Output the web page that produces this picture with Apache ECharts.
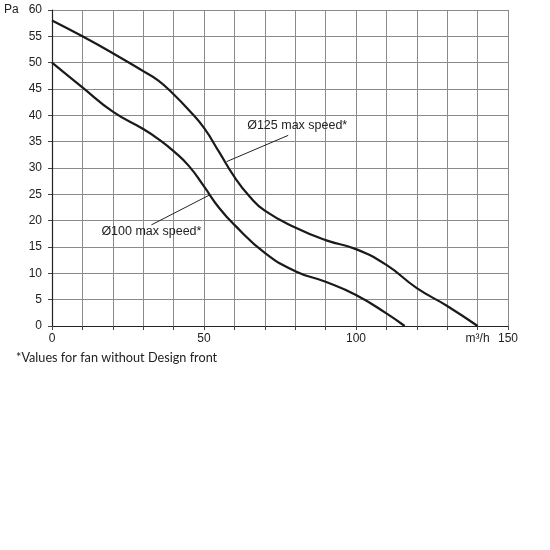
<!DOCTYPE html>
<html>
<head>
<meta charset="utf-8">
<script src="https://cdn.jsdelivr.net/npm/echarts@6/dist/echarts.min.js"></script>
<style>
  html, body { margin: 0; padding: 0; background: #fff; }
  #chart { width: 550px; height: 550px; }
</style>
</head>
<body>
<div id="chart"></div>
<script>
// fan curves, [m3/h, Pa]
var fan125 = [[0,58],[10,55],[20,51.8],[30,48.4],[35,46.6],[40,44],[45,41],[50,37.6],[55,33],[60,28.3],[65,24.6],[70,21.9],[80,18.7],[90,16.3],[100,14.6],[110,11.6],[120,7.2],[130,3.8],[140,0]];
var fan100 = [[0,50],[10,45.3],[20,40.7],[30,37.4],[35,35.5],[40,33.2],[45,30.4],[50,26.5],[55,22.4],[60,19.2],[70,13.9],[80,10.4],[90,8.4],[100,5.9],[110,2.4],[116,0]];

// leader lines of the labels
var lead125 = [[57.4,31.2],[77.7,36.2]];
var lead100 = [[32.7,19.2],[51.9,24.9]];

var name125 = 'Ø125 max speed*';
var name100 = 'Ø100 max speed*';
var footNote = '*Values for fan without Design front';

var xTicks = {0:'0', 50:'50', 100:'100', 140:'m³/h', 150:'150'};

var chart = echarts.init(document.getElementById('chart'));

var lineStyleCurve = { color: '#1a1a1a', width: 2.2 };
var noDot = { color: 'rgba(0,0,0,0)' };

chart.setOption({
  animation: false,
  backgroundColor: '#fff',
  grid: { left: 52, right: 42, top: 10, bottom: 224, containLabel: false },
  xAxis: {
    type: 'value', min: 0, max: 150, interval: 10,
    axisLine: { show: true, lineStyle: { color: '#222', width: 1.2 } },
    axisTick: { show: true, length: 4, lineStyle: { color: '#444' } },
    splitLine: { show: true, lineStyle: { color: '#8a8a8a', width: 1 } },
    axisLabel: {
      margin: 7, color: '#222', fontSize: 12, fontFamily: 'Liberation Sans',
      formatter: function(v){ return xTicks[v] !== undefined ? xTicks[v] : ''; }
    }
  },
  yAxis: {
    type: 'value', min: 0, max: 60, interval: 5,
    axisLine: { show: true, lineStyle: { color: '#222', width: 1.2 } },
    axisTick: { show: true, length: 4, lineStyle: { color: '#444' } },
    splitLine: { show: true, lineStyle: { color: '#8a8a8a', width: 1 } },
    axisLabel: {
      margin: 10, color: '#222', fontSize: 12, fontFamily: 'Liberation Sans',
      formatter: function(v){ return v === 60 ? 'Pa   60' : String(v); }
    }
  },
  series: [
    {
      type: 'line', data: fan125, showSymbol: false, smooth: 0.5,
      lineStyle: lineStyleCurve, z: 3
    },
    {
      type: 'line', data: fan100, showSymbol: false, smooth: 0.5,
      lineStyle: lineStyleCurve, z: 3
    },
    {
      type: 'line', showSymbol: true, symbol: 'circle', symbolSize: 2,
      itemStyle: noDot,
      lineStyle: { color: '#222', width: 1 },
      data: [
        lead125[0],
        { value: lead125[1], label: {
          show: true, position: 'top', distance: 2, offset: [9, 0], formatter: name125,
          color: '#222', fontSize: 12.5, fontFamily: 'Liberation Sans'
        } }
      ]
    },
    {
      type: 'line', showSymbol: true, symbol: 'circle', symbolSize: 2,
      itemStyle: noDot,
      lineStyle: { color: '#222', width: 1 },
      data: [
        { value: lead100[0], label: {
          show: true, position: 'bottom', distance: -1, formatter: name100,
          color: '#222', fontSize: 12.5, fontFamily: 'Liberation Sans'
        } },
        lead100[1]
      ]
    }
  ],
  graphic: [
    {
      type: 'text', left: 16, top: 351,
      style: { text: footNote, fill: '#222', font: '12.7px Lato' }
    }
  ]
});
</script>
</body>
</html>
